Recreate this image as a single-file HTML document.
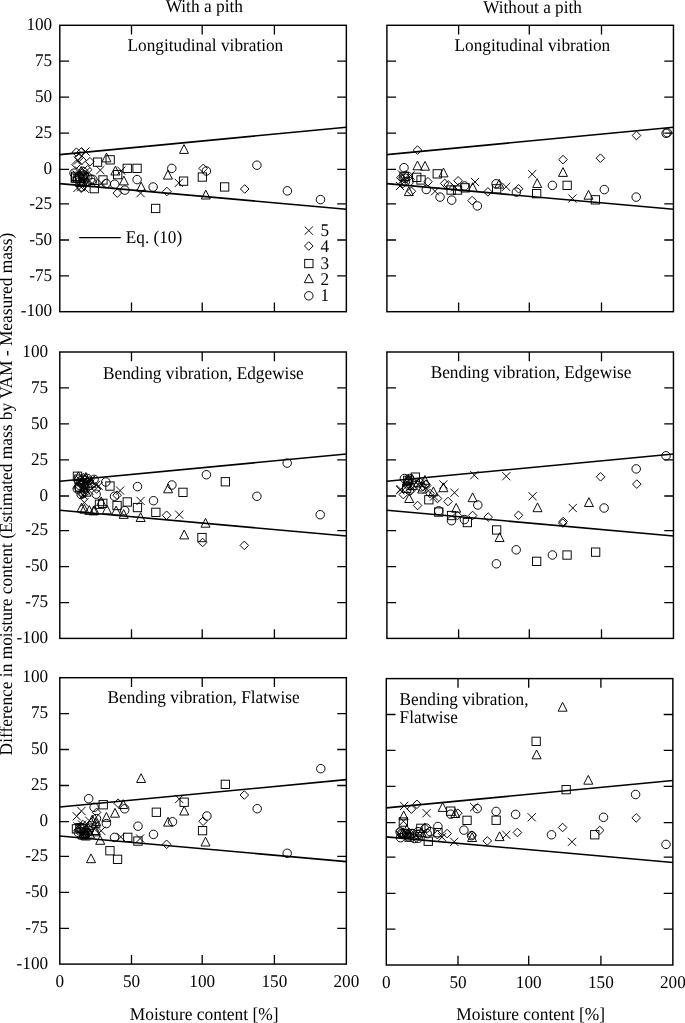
<!DOCTYPE html>
<html><head><meta charset="utf-8"><style>html,body{margin:0;padding:0;background:#fff;overflow:hidden}svg{display:block}</style></head>
<body><svg width="685" height="1023" viewBox="0 0 685 1023" font-family='"Liberation Serif", "Times New Roman", serif' font-size="17.2" text-rendering="geometricPrecision">
<rect width="685" height="1023" fill="#fff"/>
<g>
<line x1="59.8" y1="154.60" x2="346.4" y2="127.25" stroke="#000" stroke-width="1.6"/>
<line x1="59.8" y1="183.60" x2="346.4" y2="209.25" stroke="#000" stroke-width="1.6"/>
<path d="M184.0 144.6L188.5 153.4L179.5 153.4Z" stroke="#000" stroke-width="0.95" fill="none"/>
<rect x="132.9" y="164.2" width="8.3" height="8.3" stroke="#000" stroke-width="0.95" fill="none"/>
<circle cx="171.8" cy="168.4" r="4.25" stroke="#000" stroke-width="0.95" fill="none"/>
<path d="M167.9 170.3L172.4 179.1L163.4 179.1Z" stroke="#000" stroke-width="0.95" fill="none"/>
<circle cx="137.1" cy="179.6" r="4.25" stroke="#000" stroke-width="0.95" fill="none"/>
<path d="M174.7 178.8L182.9 187.0M182.9 178.8L174.7 187.0" stroke="#000" stroke-width="0.95" fill="none"/>
<rect x="179.4" y="177.0" width="8.3" height="8.3" stroke="#000" stroke-width="0.95" fill="none"/>
<path d="M203.2 164.1L207.5 168.4L203.2 172.7L198.9 168.4Z" stroke="#000" stroke-width="0.95" fill="none"/>
<circle cx="206.4" cy="171.0" r="4.25" stroke="#000" stroke-width="0.95" fill="none"/>
<rect x="198.2" y="172.9" width="8.3" height="8.3" stroke="#000" stroke-width="0.95" fill="none"/>
<circle cx="256.9" cy="165.2" r="4.25" stroke="#000" stroke-width="0.95" fill="none"/>
<rect x="220.5" y="182.8" width="8.3" height="8.3" stroke="#000" stroke-width="0.95" fill="none"/>
<path d="M244.7 184.7L249.0 189.0L244.7 193.3L240.4 189.0Z" stroke="#000" stroke-width="0.95" fill="none"/>
<circle cx="287.4" cy="190.9" r="4.25" stroke="#000" stroke-width="0.95" fill="none"/>
<circle cx="320.5" cy="199.6" r="4.25" stroke="#000" stroke-width="0.95" fill="none"/>
<path d="M205.8 190.2L210.3 199.0L201.3 199.0Z" stroke="#000" stroke-width="0.95" fill="none"/>
<path d="M166.9 187.2L171.2 191.5L166.9 195.8L162.6 191.5Z" stroke="#000" stroke-width="0.95" fill="none"/>
<circle cx="153.1" cy="187.0" r="4.25" stroke="#000" stroke-width="0.95" fill="none"/>
<path d="M141.2 182.2L145.7 191.0L136.7 191.0Z" stroke="#000" stroke-width="0.95" fill="none"/>
<path d="M136.5 189.0L144.7 197.2M144.7 189.0L136.5 197.2" stroke="#000" stroke-width="0.95" fill="none"/>
<rect x="151.5" y="204.3" width="8.3" height="8.3" stroke="#000" stroke-width="0.95" fill="none"/>
<path d="M106.5 153.1L111.0 161.9L102.0 161.9Z" stroke="#000" stroke-width="0.95" fill="none"/>
<rect x="106.0" y="155.7" width="8.3" height="8.3" stroke="#000" stroke-width="0.95" fill="none"/>
<rect x="93.4" y="158.0" width="8.3" height="8.3" stroke="#000" stroke-width="0.95" fill="none"/>
<path d="M96.2 166.0L104.4 174.2M104.4 166.0L96.2 174.2" stroke="#000" stroke-width="0.95" fill="none"/>
<path d="M115.4 166.2L119.9 175.0L110.9 175.0Z" stroke="#000" stroke-width="0.95" fill="none"/>
<path d="M117.2 166.6L125.4 174.8M125.4 166.6L117.2 174.8" stroke="#000" stroke-width="0.95" fill="none"/>
<rect x="113.5" y="170.5" width="8.3" height="8.3" stroke="#000" stroke-width="0.95" fill="none"/>
<rect x="123.1" y="164.2" width="8.3" height="8.3" stroke="#000" stroke-width="0.95" fill="none"/>
<rect x="98.8" y="175.8" width="8.3" height="8.3" stroke="#000" stroke-width="0.95" fill="none"/>
<circle cx="106.2" cy="183.5" r="4.25" stroke="#000" stroke-width="0.95" fill="none"/>
<circle cx="114.7" cy="184.2" r="4.25" stroke="#000" stroke-width="0.95" fill="none"/>
<path d="M123.9 176.1L128.4 184.9L119.4 184.9Z" stroke="#000" stroke-width="0.95" fill="none"/>
<circle cx="124.9" cy="190.1" r="4.25" stroke="#000" stroke-width="0.95" fill="none"/>
<path d="M117.3 188.8L121.6 193.1L117.3 197.4L113.0 193.1Z" stroke="#000" stroke-width="0.95" fill="none"/>
<path d="M97.5 179.1L105.7 187.3M105.7 179.1L97.5 187.3" stroke="#000" stroke-width="0.95" fill="none"/>
<path d="M76.4 147.9L80.7 152.2L76.4 156.5L72.1 152.2Z" stroke="#000" stroke-width="0.95" fill="none"/>
<path d="M81.2 147.9L85.5 152.2L81.2 156.5L76.9 152.2Z" stroke="#000" stroke-width="0.95" fill="none"/>
<path d="M81.4 147.4L89.6 155.6M89.6 147.4L81.4 155.6" stroke="#000" stroke-width="0.95" fill="none"/>
<path d="M89.9 157.4L94.2 161.7L89.9 166.0L85.6 161.7Z" stroke="#000" stroke-width="0.95" fill="none"/>
<path d="M76.1 160.3L80.4 164.6L76.1 168.9L71.8 164.6Z" stroke="#000" stroke-width="0.95" fill="none"/>
<path d="M81.9 155.9L86.2 160.2L81.9 164.5L77.6 160.2Z" stroke="#000" stroke-width="0.95" fill="none"/>
<rect x="71.5" y="172.2" width="8.3" height="8.3" stroke="#000" stroke-width="0.95" fill="none"/>
<rect x="90.1" y="184.5" width="8.3" height="8.3" stroke="#000" stroke-width="0.95" fill="none"/>
<circle cx="90.7" cy="179.2" r="4.25" stroke="#000" stroke-width="0.95" fill="none"/>
<path d="M77.1 183.1L85.3 191.3M85.3 183.1L77.1 191.3" stroke="#000" stroke-width="0.95" fill="none"/>
<path d="M73.4 183.8L81.6 192.0M81.6 183.8L73.4 192.0" stroke="#000" stroke-width="0.95" fill="none"/>
<circle cx="79.7" cy="177.0" r="4.25" stroke="#000" stroke-width="0.95" fill="none"/>
<circle cx="87.7" cy="177.0" r="4.25" stroke="#000" stroke-width="0.95" fill="none"/>
<path d="M84.1 166.9L88.4 171.2L84.1 175.5L79.8 171.2Z" stroke="#000" stroke-width="0.95" fill="none"/>
<path d="M87.7 165.4L92.0 169.7L87.7 174.0L83.4 169.7Z" stroke="#000" stroke-width="0.95" fill="none"/>
<path d="M74.9 166.4L83.1 174.6M83.1 166.4L74.9 174.6" stroke="#000" stroke-width="0.95" fill="none"/>
<path d="M77.9 174.4L86.1 182.6M86.1 174.4L77.9 182.6" stroke="#000" stroke-width="0.95" fill="none"/>
<circle cx="83.0" cy="181.5" r="4.25" stroke="#000" stroke-width="0.95" fill="none"/>
<rect x="73.8" y="174.3" width="8.3" height="8.3" stroke="#000" stroke-width="0.95" fill="none"/>
<path d="M79.0 153.2L83.3 157.5L79.0 161.8L74.7 157.5Z" stroke="#000" stroke-width="0.95" fill="none"/>
<path d="M73.9 156.4L82.1 164.6M82.1 156.4L73.9 164.6" stroke="#000" stroke-width="0.95" fill="none"/>
<circle cx="92.0" cy="182.5" r="4.25" stroke="#000" stroke-width="0.95" fill="none"/>
<path d="M86.9 178.2L91.2 182.5L86.9 186.8L82.6 182.5Z" stroke="#000" stroke-width="0.95" fill="none"/>
<path d="M80.2 178.2L84.5 182.5L80.2 186.8L75.9 182.5Z" stroke="#000" stroke-width="0.95" fill="none"/>
<path d="M76.0 173.2L80.5 182.0L71.5 182.0Z" stroke="#000" stroke-width="0.95" fill="none"/>
<path d="M81.6 167.7L89.8 175.9M89.8 167.7L81.6 175.9" stroke="#000" stroke-width="0.95" fill="none"/>
<rect x="71.1" y="173.9" width="8.3" height="8.3" stroke="#000" stroke-width="0.95" fill="none"/>
<circle cx="82.5" cy="176.0" r="4.25" stroke="#000" stroke-width="0.95" fill="none"/>
<path d="M83.5 174.8L87.8 179.1L83.5 183.4L79.2 179.1Z" stroke="#000" stroke-width="0.95" fill="none"/>
<path d="M83.0 177.6L87.5 186.4L78.5 186.4Z" stroke="#000" stroke-width="0.95" fill="none"/>
<circle cx="74.0" cy="173.2" r="4.25" stroke="#000" stroke-width="0.95" fill="none"/>
<path d="M82.6 176.9L87.1 185.7L78.1 185.7Z" stroke="#000" stroke-width="0.95" fill="none"/>
<rect x="75.9" y="178.1" width="8.3" height="8.3" stroke="#000" stroke-width="0.95" fill="none"/>
<path d="M72.6 170.5L80.8 178.7M80.8 170.5L72.6 178.7" stroke="#000" stroke-width="0.95" fill="none"/>
<circle cx="83.6" cy="176.9" r="4.25" stroke="#000" stroke-width="0.95" fill="none"/>
<rect x="75.4" y="174.1" width="8.3" height="8.3" stroke="#000" stroke-width="0.95" fill="none"/>
<circle cx="84.3" cy="174.9" r="4.25" stroke="#000" stroke-width="0.95" fill="none"/>
<path d="M81.2 166.4L85.7 175.2L76.7 175.2Z" stroke="#000" stroke-width="0.95" fill="none"/>
<path d="M80.8 184.7L89.0 192.9M89.0 184.7L80.8 192.9" stroke="#000" stroke-width="0.95" fill="none"/>
<circle cx="81.4" cy="187.0" r="4.25" stroke="#000" stroke-width="0.95" fill="none"/>
<circle cx="92.8" cy="179.4" r="4.25" stroke="#000" stroke-width="0.95" fill="none"/>
<rect x="59.8" y="25.3" width="286.55" height="286.4" fill="none" stroke="#000" stroke-width="1.45"/>
<path d="M131.5 25.3v9.2M131.5 311.7v-9.2M202.2 25.3v9.2M202.2 311.7v-9.2M274.4 25.3v9.2M274.4 311.7v-9.2M59.8 61.2h9.2M346.4 61.2h-9.2M59.8 97.1h9.2M346.4 97.1h-9.2M59.8 133.1h9.2M346.4 133.1h-9.2M59.8 169.3h9.2M346.4 169.3h-9.2M59.8 203.9h9.2M346.4 203.9h-9.2M59.8 240.0h9.2M346.4 240.0h-9.2M59.8 275.9h9.2M346.4 275.9h-9.2" stroke="#000" stroke-width="1.3" fill="none"/>
<text transform="translate(52.2 30.0) scale(1 1.04)" text-anchor="end">100</text>
<text transform="translate(52.2 65.9) scale(1 1.04)" text-anchor="end">75</text>
<text transform="translate(52.2 101.8) scale(1 1.04)" text-anchor="end">50</text>
<text transform="translate(52.2 137.8) scale(1 1.04)" text-anchor="end">25</text>
<text transform="translate(52.2 174.0) scale(1 1.04)" text-anchor="end">0</text>
<text transform="translate(52.2 208.6) scale(1 1.04)" text-anchor="end">-25</text>
<text transform="translate(52.2 244.7) scale(1 1.04)" text-anchor="end">-50</text>
<text transform="translate(52.2 280.6) scale(1 1.04)" text-anchor="end">-75</text>
<text transform="translate(52.2 316.4) scale(1 1.04)" text-anchor="end">-100</text>
<text transform="translate(205.4 51.0) scale(1 1.04)" text-anchor="middle" font-size="17.25">Longitudinal vibration</text>
</g>
<g>
<line x1="386.9" y1="154.60" x2="673.5" y2="127.25" stroke="#000" stroke-width="1.6"/>
<line x1="386.9" y1="183.60" x2="673.5" y2="209.25" stroke="#000" stroke-width="1.6"/>
<path d="M636.5 131.2L640.8 135.5L636.5 139.8L632.2 135.5Z" stroke="#000" stroke-width="0.95" fill="none"/>
<circle cx="666.1" cy="133.3" r="4.25" stroke="#000" stroke-width="0.95" fill="none"/>
<circle cx="667.3" cy="132.7" r="4.25" stroke="#000" stroke-width="0.95" fill="none"/>
<path d="M563.0 155.3L567.3 159.6L563.0 163.9L558.7 159.6Z" stroke="#000" stroke-width="0.95" fill="none"/>
<path d="M600.4 153.9L604.7 158.2L600.4 162.5L596.1 158.2Z" stroke="#000" stroke-width="0.95" fill="none"/>
<path d="M563.0 167.6L567.5 176.4L558.5 176.4Z" stroke="#000" stroke-width="0.95" fill="none"/>
<path d="M528.1 170.0L536.3 178.2M536.3 170.0L528.1 178.2" stroke="#000" stroke-width="0.95" fill="none"/>
<path d="M537.2 178.7L541.7 187.5L532.7 187.5Z" stroke="#000" stroke-width="0.95" fill="none"/>
<circle cx="552.4" cy="185.4" r="4.25" stroke="#000" stroke-width="0.95" fill="none"/>
<rect x="563.0" y="181.2" width="8.3" height="8.3" stroke="#000" stroke-width="0.95" fill="none"/>
<circle cx="604.3" cy="189.6" r="4.25" stroke="#000" stroke-width="0.95" fill="none"/>
<path d="M588.5 190.4L593.0 199.2L584.0 199.2Z" stroke="#000" stroke-width="0.95" fill="none"/>
<rect x="591.2" y="195.7" width="8.3" height="8.3" stroke="#000" stroke-width="0.95" fill="none"/>
<path d="M568.3 194.4L576.5 202.6M576.5 194.4L568.3 202.6" stroke="#000" stroke-width="0.95" fill="none"/>
<circle cx="636.2" cy="197.1" r="4.25" stroke="#000" stroke-width="0.95" fill="none"/>
<rect x="532.5" y="189.5" width="8.3" height="8.3" stroke="#000" stroke-width="0.95" fill="none"/>
<path d="M518.6 184.5L522.9 188.8L518.6 193.1L514.3 188.8Z" stroke="#000" stroke-width="0.95" fill="none"/>
<circle cx="516.4" cy="192.1" r="4.25" stroke="#000" stroke-width="0.95" fill="none"/>
<path d="M502.0 182.7L510.2 190.9M510.2 182.7L502.0 190.9" stroke="#000" stroke-width="0.95" fill="none"/>
<path d="M499.2 179.3L503.7 188.1L494.7 188.1Z" stroke="#000" stroke-width="0.95" fill="none"/>
<circle cx="496.1" cy="183.8" r="4.25" stroke="#000" stroke-width="0.95" fill="none"/>
<rect x="492.5" y="184.7" width="8.3" height="8.3" stroke="#000" stroke-width="0.95" fill="none"/>
<path d="M443.5 168.1L448.0 176.9L439.0 176.9Z" stroke="#000" stroke-width="0.95" fill="none"/>
<path d="M458.1 176.5L462.4 180.8L458.1 185.1L453.8 180.8Z" stroke="#000" stroke-width="0.95" fill="none"/>
<path d="M448.2 180.6L452.5 184.9L448.2 189.2L443.9 184.9Z" stroke="#000" stroke-width="0.95" fill="none"/>
<rect x="447.0" y="185.9" width="8.3" height="8.3" stroke="#000" stroke-width="0.95" fill="none"/>
<rect x="453.4" y="185.9" width="8.3" height="8.3" stroke="#000" stroke-width="0.95" fill="none"/>
<path d="M451.1 183.1L459.3 191.3M459.3 183.1L451.1 191.3" stroke="#000" stroke-width="0.95" fill="none"/>
<circle cx="464.5" cy="186.0" r="4.25" stroke="#000" stroke-width="0.95" fill="none"/>
<rect x="461.0" y="183.7" width="8.3" height="8.3" stroke="#000" stroke-width="0.95" fill="none"/>
<path d="M470.9 177.9L479.1 186.1M479.1 177.9L470.9 186.1" stroke="#000" stroke-width="0.95" fill="none"/>
<path d="M472.7 182.7L477.2 191.5L468.2 191.5Z" stroke="#000" stroke-width="0.95" fill="none"/>
<path d="M487.9 187.6L492.2 191.9L487.9 196.2L483.6 191.9Z" stroke="#000" stroke-width="0.95" fill="none"/>
<circle cx="440.0" cy="197.1" r="4.25" stroke="#000" stroke-width="0.95" fill="none"/>
<circle cx="451.7" cy="200.1" r="4.25" stroke="#000" stroke-width="0.95" fill="none"/>
<path d="M472.1 196.3L476.4 200.6L472.1 204.9L467.8 200.6Z" stroke="#000" stroke-width="0.95" fill="none"/>
<circle cx="477.4" cy="205.9" r="4.25" stroke="#000" stroke-width="0.95" fill="none"/>
<path d="M417.5 145.8L421.8 150.1L417.5 154.4L413.2 150.1Z" stroke="#000" stroke-width="0.95" fill="none"/>
<path d="M417.5 161.0L422.0 169.8L413.0 169.8Z" stroke="#000" stroke-width="0.95" fill="none"/>
<path d="M425.0 161.4L429.5 170.2L420.5 170.2Z" stroke="#000" stroke-width="0.95" fill="none"/>
<circle cx="404.0" cy="167.7" r="4.25" stroke="#000" stroke-width="0.95" fill="none"/>
<rect x="412.6" y="173.2" width="8.3" height="8.3" stroke="#000" stroke-width="0.95" fill="none"/>
<rect x="416.9" y="175.8" width="8.3" height="8.3" stroke="#000" stroke-width="0.95" fill="none"/>
<rect x="433.1" y="169.7" width="8.3" height="8.3" stroke="#000" stroke-width="0.95" fill="none"/>
<path d="M400.9 173.4L405.2 177.7L400.9 182.0L396.6 177.7Z" stroke="#000" stroke-width="0.95" fill="none"/>
<path d="M411.4 187.0L415.7 191.3L411.4 195.6L407.1 191.3Z" stroke="#000" stroke-width="0.95" fill="none"/>
<path d="M408.8 186.8L413.3 195.6L404.3 195.6Z" stroke="#000" stroke-width="0.95" fill="none"/>
<path d="M428.0 177.4L432.3 181.7L428.0 186.0L423.7 181.7Z" stroke="#000" stroke-width="0.95" fill="none"/>
<path d="M430.9 187.2L439.1 195.4M439.1 187.2L430.9 195.4" stroke="#000" stroke-width="0.95" fill="none"/>
<circle cx="426.3" cy="189.5" r="4.25" stroke="#000" stroke-width="0.95" fill="none"/>
<path d="M395.9 181.9L404.1 190.1M404.1 181.9L395.9 190.1" stroke="#000" stroke-width="0.95" fill="none"/>
<circle cx="407.9" cy="176.4" r="4.25" stroke="#000" stroke-width="0.95" fill="none"/>
<path d="M406.4 171.4L414.6 179.6M414.6 171.4L406.4 179.6" stroke="#000" stroke-width="0.95" fill="none"/>
<circle cx="405.3" cy="181.7" r="4.25" stroke="#000" stroke-width="0.95" fill="none"/>
<path d="M444.7 179.1L449.0 183.4L444.7 187.7L440.4 183.4Z" stroke="#000" stroke-width="0.95" fill="none"/>
<circle cx="405.3" cy="178.2" r="4.25" stroke="#000" stroke-width="0.95" fill="none"/>
<path d="M399.9 175.4L408.1 183.6M408.1 175.4L399.9 183.6" stroke="#000" stroke-width="0.95" fill="none"/>
<path d="M403.0 179.2L407.3 183.5L403.0 187.8L398.7 183.5Z" stroke="#000" stroke-width="0.95" fill="none"/>
<circle cx="409.0" cy="181.5" r="4.25" stroke="#000" stroke-width="0.95" fill="none"/>
<path d="M397.9 170.4L406.1 178.6M406.1 170.4L397.9 178.6" stroke="#000" stroke-width="0.95" fill="none"/>
<rect x="399.9" y="172.3" width="8.3" height="8.3" stroke="#000" stroke-width="0.95" fill="none"/>
<rect x="386.9" y="25.3" width="286.55" height="286.4" fill="none" stroke="#000" stroke-width="1.45"/>
<path d="M458.6 25.3v9.2M458.6 311.7v-9.2M529.3 25.3v9.2M529.3 311.7v-9.2M601.5 25.3v9.2M601.5 311.7v-9.2M386.9 61.2h9.2M673.5 61.2h-9.2M386.9 97.1h9.2M673.5 97.1h-9.2M386.9 133.1h9.2M673.5 133.1h-9.2M386.9 169.3h9.2M673.5 169.3h-9.2M386.9 203.9h9.2M673.5 203.9h-9.2M386.9 240.0h9.2M673.5 240.0h-9.2M386.9 275.9h9.2M673.5 275.9h-9.2" stroke="#000" stroke-width="1.3" fill="none"/>
<text transform="translate(532.4 51.0) scale(1 1.04)" text-anchor="middle" font-size="17.25">Longitudinal vibration</text>
</g>
<g>
<line x1="59.8" y1="481.30" x2="346.4" y2="453.95" stroke="#000" stroke-width="1.6"/>
<line x1="59.8" y1="510.30" x2="346.4" y2="535.95" stroke="#000" stroke-width="1.6"/>
<circle cx="287.2" cy="463.1" r="4.25" stroke="#000" stroke-width="0.95" fill="none"/>
<circle cx="206.4" cy="474.7" r="4.25" stroke="#000" stroke-width="0.95" fill="none"/>
<rect x="221.2" y="477.6" width="8.3" height="8.3" stroke="#000" stroke-width="0.95" fill="none"/>
<circle cx="171.9" cy="485.0" r="4.25" stroke="#000" stroke-width="0.95" fill="none"/>
<path d="M168.1 484.0L172.6 492.8L163.6 492.8Z" stroke="#000" stroke-width="0.95" fill="none"/>
<rect x="178.8" y="488.2" width="8.3" height="8.3" stroke="#000" stroke-width="0.95" fill="none"/>
<circle cx="256.9" cy="496.3" r="4.25" stroke="#000" stroke-width="0.95" fill="none"/>
<circle cx="153.5" cy="500.7" r="4.25" stroke="#000" stroke-width="0.95" fill="none"/>
<rect x="151.7" y="508.2" width="8.3" height="8.3" stroke="#000" stroke-width="0.95" fill="none"/>
<path d="M166.6 511.0L170.9 515.3L166.6 519.6L162.3 515.3Z" stroke="#000" stroke-width="0.95" fill="none"/>
<path d="M175.1 510.6L183.3 518.8M183.3 510.6L175.1 518.8" stroke="#000" stroke-width="0.95" fill="none"/>
<circle cx="320.2" cy="514.7" r="4.25" stroke="#000" stroke-width="0.95" fill="none"/>
<path d="M205.5 518.4L210.0 527.2L201.0 527.2Z" stroke="#000" stroke-width="0.95" fill="none"/>
<path d="M184.2 530.1L188.7 538.9L179.7 538.9Z" stroke="#000" stroke-width="0.95" fill="none"/>
<rect x="197.8" y="533.4" width="8.3" height="8.3" stroke="#000" stroke-width="0.95" fill="none"/>
<path d="M202.6 538.2L206.9 542.5L202.6 546.8L198.3 542.5Z" stroke="#000" stroke-width="0.95" fill="none"/>
<path d="M244.3 541.1L248.6 545.4L244.3 549.7L240.0 545.4Z" stroke="#000" stroke-width="0.95" fill="none"/>
<circle cx="105.8" cy="482.0" r="4.25" stroke="#000" stroke-width="0.95" fill="none"/>
<rect x="105.8" y="481.9" width="8.3" height="8.3" stroke="#000" stroke-width="0.95" fill="none"/>
<path d="M116.0 486.5L124.2 494.7M124.2 486.5L116.0 494.7" stroke="#000" stroke-width="0.95" fill="none"/>
<circle cx="137.5" cy="486.6" r="4.25" stroke="#000" stroke-width="0.95" fill="none"/>
<circle cx="114.5" cy="496.3" r="4.25" stroke="#000" stroke-width="0.95" fill="none"/>
<path d="M117.1 490.9L121.4 495.2L117.1 499.5L112.8 495.2Z" stroke="#000" stroke-width="0.95" fill="none"/>
<rect x="123.1" y="497.8" width="8.3" height="8.3" stroke="#000" stroke-width="0.95" fill="none"/>
<path d="M136.5 496.8L144.7 505.0M144.7 496.8L136.5 505.0" stroke="#000" stroke-width="0.95" fill="none"/>
<rect x="133.3" y="503.4" width="8.3" height="8.3" stroke="#000" stroke-width="0.95" fill="none"/>
<rect x="112.9" y="501.4" width="8.3" height="8.3" stroke="#000" stroke-width="0.95" fill="none"/>
<circle cx="124.7" cy="510.6" r="4.25" stroke="#000" stroke-width="0.95" fill="none"/>
<path d="M116.1 506.1L120.6 514.9L111.6 514.9Z" stroke="#000" stroke-width="0.95" fill="none"/>
<path d="M123.7 509.6L128.2 518.4L119.2 518.4Z" stroke="#000" stroke-width="0.95" fill="none"/>
<path d="M140.6 512.7L145.1 521.5L136.1 521.5Z" stroke="#000" stroke-width="0.95" fill="none"/>
<rect x="98.6" y="499.2" width="8.3" height="8.3" stroke="#000" stroke-width="0.95" fill="none"/>
<path d="M106.9 505.0L111.4 513.8L102.4 513.8Z" stroke="#000" stroke-width="0.95" fill="none"/>
<path d="M101.2 496.9L105.7 505.7L96.7 505.7Z" stroke="#000" stroke-width="0.95" fill="none"/>
<path d="M93.6 506.1L98.1 514.9L89.1 514.9Z" stroke="#000" stroke-width="0.95" fill="none"/>
<circle cx="96.1" cy="494.2" r="4.25" stroke="#000" stroke-width="0.95" fill="none"/>
<path d="M94.6 481.9L102.8 490.1M102.8 481.9L94.6 490.1" stroke="#000" stroke-width="0.95" fill="none"/>
<circle cx="94.1" cy="479.4" r="4.25" stroke="#000" stroke-width="0.95" fill="none"/>
<path d="M80.2 498.4L88.4 506.6M88.4 498.4L80.2 506.6" stroke="#000" stroke-width="0.95" fill="none"/>
<path d="M81.5 503.2L86.0 512.0L77.0 512.0Z" stroke="#000" stroke-width="0.95" fill="none"/>
<path d="M89.3 505.6L93.8 514.4L84.8 514.4Z" stroke="#000" stroke-width="0.95" fill="none"/>
<path d="M94.6 505.6L99.1 514.4L90.1 514.4Z" stroke="#000" stroke-width="0.95" fill="none"/>
<path d="M84.3 504.4L88.8 513.2L79.8 513.2Z" stroke="#000" stroke-width="0.95" fill="none"/>
<rect x="95.3" y="500.1" width="8.3" height="8.3" stroke="#000" stroke-width="0.95" fill="none"/>
<path d="M96.6 484.7L100.9 489.0L96.6 493.3L92.3 489.0Z" stroke="#000" stroke-width="0.95" fill="none"/>
<path d="M91.9 480.8L100.1 489.0M100.1 480.8L91.9 489.0" stroke="#000" stroke-width="0.95" fill="none"/>
<path d="M85.5 479.1L90.0 487.9L81.0 487.9Z" stroke="#000" stroke-width="0.95" fill="none"/>
<circle cx="80.8" cy="480.7" r="4.25" stroke="#000" stroke-width="0.95" fill="none"/>
<path d="M84.1 475.3L88.4 479.6L84.1 483.9L79.8 479.6Z" stroke="#000" stroke-width="0.95" fill="none"/>
<path d="M78.4 471.8L82.9 480.6L73.9 480.6Z" stroke="#000" stroke-width="0.95" fill="none"/>
<path d="M83.5 478.9L87.8 483.2L83.5 487.5L79.2 483.2Z" stroke="#000" stroke-width="0.95" fill="none"/>
<circle cx="87.4" cy="478.5" r="4.25" stroke="#000" stroke-width="0.95" fill="none"/>
<path d="M85.9 472.5L90.4 481.3L81.4 481.3Z" stroke="#000" stroke-width="0.95" fill="none"/>
<rect x="73.3" y="472.1" width="8.3" height="8.3" stroke="#000" stroke-width="0.95" fill="none"/>
<path d="M73.0 480.3L81.2 488.5M81.2 480.3L73.0 488.5" stroke="#000" stroke-width="0.95" fill="none"/>
<path d="M91.5 478.4L96.0 487.2L87.0 487.2Z" stroke="#000" stroke-width="0.95" fill="none"/>
<path d="M76.2 476.1L84.4 484.3M84.4 476.1L76.2 484.3" stroke="#000" stroke-width="0.95" fill="none"/>
<path d="M85.3 475.0L89.6 479.3L85.3 483.6L81.0 479.3Z" stroke="#000" stroke-width="0.95" fill="none"/>
<path d="M88.4 480.5L92.9 489.3L83.9 489.3Z" stroke="#000" stroke-width="0.95" fill="none"/>
<circle cx="83.2" cy="484.7" r="4.25" stroke="#000" stroke-width="0.95" fill="none"/>
<circle cx="79.8" cy="485.4" r="4.25" stroke="#000" stroke-width="0.95" fill="none"/>
<rect x="74.7" y="475.0" width="8.3" height="8.3" stroke="#000" stroke-width="0.95" fill="none"/>
<path d="M86.9 475.9L95.1 484.1M95.1 475.9L86.9 484.1" stroke="#000" stroke-width="0.95" fill="none"/>
<path d="M81.6 477.1L86.1 485.9L77.1 485.9Z" stroke="#000" stroke-width="0.95" fill="none"/>
<path d="M89.7 476.5L94.0 480.8L89.7 485.1L85.4 480.8Z" stroke="#000" stroke-width="0.95" fill="none"/>
<path d="M85.7 476.5L93.9 484.7M93.9 476.5L85.7 484.7" stroke="#000" stroke-width="0.95" fill="none"/>
<path d="M83.2 473.3L87.5 477.6L83.2 481.9L78.9 477.6Z" stroke="#000" stroke-width="0.95" fill="none"/>
<path d="M86.1 479.3L94.3 487.5M94.3 479.3L86.1 487.5" stroke="#000" stroke-width="0.95" fill="none"/>
<circle cx="77.3" cy="488.9" r="4.25" stroke="#000" stroke-width="0.95" fill="none"/>
<path d="M86.3 487.4L90.8 496.2L81.8 496.2Z" stroke="#000" stroke-width="0.95" fill="none"/>
<rect x="75.4" y="483.4" width="8.3" height="8.3" stroke="#000" stroke-width="0.95" fill="none"/>
<circle cx="84.1" cy="487.0" r="4.25" stroke="#000" stroke-width="0.95" fill="none"/>
<path d="M84.9 488.8L89.2 493.1L84.9 497.4L80.6 493.1Z" stroke="#000" stroke-width="0.95" fill="none"/>
<path d="M85.2 486.6L93.4 494.8M93.4 486.6L85.2 494.8" stroke="#000" stroke-width="0.95" fill="none"/>
<path d="M83.0 489.8L87.3 494.1L83.0 498.4L78.7 494.1Z" stroke="#000" stroke-width="0.95" fill="none"/>
<circle cx="81.1" cy="494.4" r="4.25" stroke="#000" stroke-width="0.95" fill="none"/>
<path d="M81.9 489.6L86.2 493.9L81.9 498.2L77.6 493.9Z" stroke="#000" stroke-width="0.95" fill="none"/>
<path d="M83.8 483.2L88.3 492.0L79.3 492.0Z" stroke="#000" stroke-width="0.95" fill="none"/>
<circle cx="78.5" cy="487.1" r="4.25" stroke="#000" stroke-width="0.95" fill="none"/>
<path d="M79.0 490.9L87.2 499.1M87.2 490.9L79.0 499.1" stroke="#000" stroke-width="0.95" fill="none"/>
<rect x="59.8" y="352.0" width="286.55" height="286.4" fill="none" stroke="#000" stroke-width="1.45"/>
<path d="M131.5 352.0v9.2M131.5 638.4v-9.2M202.2 352.0v9.2M202.2 638.4v-9.2M274.4 352.0v9.2M274.4 638.4v-9.2M59.8 387.9h9.2M346.4 387.9h-9.2M59.8 423.8h9.2M346.4 423.8h-9.2M59.8 459.8h9.2M346.4 459.8h-9.2M59.8 496.0h9.2M346.4 496.0h-9.2M59.8 530.6h9.2M346.4 530.6h-9.2M59.8 566.7h9.2M346.4 566.7h-9.2M59.8 602.6h9.2M346.4 602.6h-9.2" stroke="#000" stroke-width="1.3" fill="none"/>
<text transform="translate(48.1 356.7) scale(1 1.04)" text-anchor="end">100</text>
<text transform="translate(48.1 392.6) scale(1 1.04)" text-anchor="end">75</text>
<text transform="translate(48.1 428.5) scale(1 1.04)" text-anchor="end">50</text>
<text transform="translate(48.1 464.5) scale(1 1.04)" text-anchor="end">25</text>
<text transform="translate(48.1 500.7) scale(1 1.04)" text-anchor="end">0</text>
<text transform="translate(48.1 535.3) scale(1 1.04)" text-anchor="end">-25</text>
<text transform="translate(48.1 571.4) scale(1 1.04)" text-anchor="end">-50</text>
<text transform="translate(48.1 607.3) scale(1 1.04)" text-anchor="end">-75</text>
<text transform="translate(48.1 643.1) scale(1 1.04)" text-anchor="end">-100</text>
<text transform="translate(203.4 378.7) scale(1 1.04)" text-anchor="middle" font-size="17.25">Bending vibration, Edgewise</text>
</g>
<g>
<line x1="386.9" y1="481.30" x2="673.5" y2="453.95" stroke="#000" stroke-width="1.6"/>
<line x1="386.9" y1="510.30" x2="673.5" y2="535.95" stroke="#000" stroke-width="1.6"/>
<circle cx="666.0" cy="455.8" r="4.25" stroke="#000" stroke-width="0.95" fill="none"/>
<circle cx="636.2" cy="468.9" r="4.25" stroke="#000" stroke-width="0.95" fill="none"/>
<path d="M600.6 472.5L604.9 476.8L600.6 481.1L596.3 476.8Z" stroke="#000" stroke-width="0.95" fill="none"/>
<path d="M636.8 479.8L641.1 484.1L636.8 488.4L632.5 484.1Z" stroke="#000" stroke-width="0.95" fill="none"/>
<path d="M502.2 472.1L510.4 480.3M510.4 472.1L502.2 480.3" stroke="#000" stroke-width="0.95" fill="none"/>
<path d="M528.5 492.2L536.7 500.4M536.7 492.2L528.5 500.4" stroke="#000" stroke-width="0.95" fill="none"/>
<path d="M537.5 502.9L542.0 511.7L533.0 511.7Z" stroke="#000" stroke-width="0.95" fill="none"/>
<path d="M588.9 497.7L593.4 506.5L584.4 506.5Z" stroke="#000" stroke-width="0.95" fill="none"/>
<circle cx="604.1" cy="508.0" r="4.25" stroke="#000" stroke-width="0.95" fill="none"/>
<path d="M568.7 503.9L576.9 512.1M576.9 503.9L568.7 512.1" stroke="#000" stroke-width="0.95" fill="none"/>
<path d="M518.5 511.0L522.8 515.3L518.5 519.6L514.2 515.3Z" stroke="#000" stroke-width="0.95" fill="none"/>
<path d="M563.2 517.2L567.5 521.5L563.2 525.8L558.9 521.5Z" stroke="#000" stroke-width="0.95" fill="none"/>
<path d="M562.8 518.8L567.1 523.1L562.8 527.4L558.5 523.1Z" stroke="#000" stroke-width="0.95" fill="none"/>
<path d="M488.2 512.8L492.5 517.1L488.2 521.4L483.9 517.1Z" stroke="#000" stroke-width="0.95" fill="none"/>
<rect x="492.5" y="525.8" width="8.3" height="8.3" stroke="#000" stroke-width="0.95" fill="none"/>
<path d="M499.6 532.7L504.1 541.5L495.1 541.5Z" stroke="#000" stroke-width="0.95" fill="none"/>
<circle cx="516.2" cy="549.8" r="4.25" stroke="#000" stroke-width="0.95" fill="none"/>
<circle cx="496.4" cy="563.8" r="4.25" stroke="#000" stroke-width="0.95" fill="none"/>
<rect x="532.5" y="557.2" width="8.3" height="8.3" stroke="#000" stroke-width="0.95" fill="none"/>
<circle cx="552.4" cy="555.0" r="4.25" stroke="#000" stroke-width="0.95" fill="none"/>
<rect x="562.9" y="550.9" width="8.3" height="8.3" stroke="#000" stroke-width="0.95" fill="none"/>
<rect x="591.5" y="548.0" width="8.3" height="8.3" stroke="#000" stroke-width="0.95" fill="none"/>
<path d="M470.2 471.1L478.4 479.3M478.4 471.1L470.2 479.3" stroke="#000" stroke-width="0.95" fill="none"/>
<path d="M439.3 480.4L447.5 488.6M447.5 480.4L439.3 488.6" stroke="#000" stroke-width="0.95" fill="none"/>
<path d="M443.4 482.9L447.9 491.7L438.9 491.7Z" stroke="#000" stroke-width="0.95" fill="none"/>
<path d="M450.4 488.6L458.6 496.8M458.6 488.6L450.4 496.8" stroke="#000" stroke-width="0.95" fill="none"/>
<path d="M472.6 492.9L477.1 501.7L468.1 501.7Z" stroke="#000" stroke-width="0.95" fill="none"/>
<circle cx="477.8" cy="505.0" r="4.25" stroke="#000" stroke-width="0.95" fill="none"/>
<path d="M448.0 497.2L452.3 501.5L448.0 505.8L443.7 501.5Z" stroke="#000" stroke-width="0.95" fill="none"/>
<path d="M437.5 494.2L441.8 498.5L437.5 502.8L433.2 498.5Z" stroke="#000" stroke-width="0.95" fill="none"/>
<rect x="424.7" y="495.6" width="8.3" height="8.3" stroke="#000" stroke-width="0.95" fill="none"/>
<path d="M433.4 487.0L437.9 495.8L428.9 495.8Z" stroke="#000" stroke-width="0.95" fill="none"/>
<path d="M456.2 503.4L460.7 512.2L451.7 512.2Z" stroke="#000" stroke-width="0.95" fill="none"/>
<rect x="434.6" y="507.9" width="8.3" height="8.3" stroke="#000" stroke-width="0.95" fill="none"/>
<circle cx="438.7" cy="510.8" r="4.25" stroke="#000" stroke-width="0.95" fill="none"/>
<rect x="447.4" y="511.4" width="8.3" height="8.3" stroke="#000" stroke-width="0.95" fill="none"/>
<circle cx="451.5" cy="520.7" r="4.25" stroke="#000" stroke-width="0.95" fill="none"/>
<path d="M457.4 511.2L461.7 515.5L457.4 519.8L453.1 515.5Z" stroke="#000" stroke-width="0.95" fill="none"/>
<circle cx="464.4" cy="519.6" r="4.25" stroke="#000" stroke-width="0.95" fill="none"/>
<rect x="463.2" y="518.4" width="8.3" height="8.3" stroke="#000" stroke-width="0.95" fill="none"/>
<path d="M472.6 511.2L476.9 515.5L472.6 519.8L468.3 515.5Z" stroke="#000" stroke-width="0.95" fill="none"/>
<rect x="411.2" y="473.0" width="8.3" height="8.3" stroke="#000" stroke-width="0.95" fill="none"/>
<path d="M424.9 475.5L429.4 484.3L420.4 484.3Z" stroke="#000" stroke-width="0.95" fill="none"/>
<path d="M417.6 501.2L421.9 505.5L417.6 509.8L413.3 505.5Z" stroke="#000" stroke-width="0.95" fill="none"/>
<path d="M409.2 493.7L413.7 502.5L404.7 502.5Z" stroke="#000" stroke-width="0.95" fill="none"/>
<path d="M403.3 490.3L407.6 494.6L403.3 498.9L399.0 494.6Z" stroke="#000" stroke-width="0.95" fill="none"/>
<circle cx="404.4" cy="478.5" r="4.25" stroke="#000" stroke-width="0.95" fill="none"/>
<path d="M415.9 479.4L424.1 487.6M424.1 479.4L415.9 487.6" stroke="#000" stroke-width="0.95" fill="none"/>
<path d="M423.0 482.2L427.3 486.5L423.0 490.8L418.7 486.5Z" stroke="#000" stroke-width="0.95" fill="none"/>
<path d="M422.9 485.4L431.1 493.6M431.1 485.4L422.9 493.6" stroke="#000" stroke-width="0.95" fill="none"/>
<path d="M430.0 489.2L434.3 493.5L430.0 497.8L425.7 493.5Z" stroke="#000" stroke-width="0.95" fill="none"/>
<path d="M429.9 492.4L438.1 500.6M438.1 492.4L429.9 500.6" stroke="#000" stroke-width="0.95" fill="none"/>
<path d="M418.0 478.0L422.5 486.8L413.5 486.8Z" stroke="#000" stroke-width="0.95" fill="none"/>
<path d="M426.0 480.2L430.3 484.5L426.0 488.8L421.7 484.5Z" stroke="#000" stroke-width="0.95" fill="none"/>
<path d="M408.3 475.0L412.8 483.8L403.8 483.8Z" stroke="#000" stroke-width="0.95" fill="none"/>
<path d="M402.5 482.1L410.7 490.3M410.7 482.1L402.5 490.3" stroke="#000" stroke-width="0.95" fill="none"/>
<path d="M396.1 486.0L404.3 494.2M404.3 486.0L396.1 494.2" stroke="#000" stroke-width="0.95" fill="none"/>
<rect x="403.6" y="476.2" width="8.3" height="8.3" stroke="#000" stroke-width="0.95" fill="none"/>
<path d="M407.6 481.4L411.9 485.7L407.6 490.0L403.3 485.7Z" stroke="#000" stroke-width="0.95" fill="none"/>
<path d="M408.9 475.5L413.2 479.8L408.9 484.1L404.6 479.8Z" stroke="#000" stroke-width="0.95" fill="none"/>
<path d="M412.2 480.8L416.7 489.6L407.7 489.6Z" stroke="#000" stroke-width="0.95" fill="none"/>
<circle cx="409.4" cy="478.5" r="4.25" stroke="#000" stroke-width="0.95" fill="none"/>
<path d="M396.5 485.1L404.7 493.3M404.7 485.1L396.5 493.3" stroke="#000" stroke-width="0.95" fill="none"/>
<rect x="402.5" y="484.1" width="8.3" height="8.3" stroke="#000" stroke-width="0.95" fill="none"/>
<path d="M410.0 487.0L414.3 491.3L410.0 495.6L405.7 491.3Z" stroke="#000" stroke-width="0.95" fill="none"/>
<path d="M410.2 481.9L414.5 486.2L410.2 490.5L405.9 486.2Z" stroke="#000" stroke-width="0.95" fill="none"/>
<path d="M412.3 474.5L416.8 483.3L407.8 483.3Z" stroke="#000" stroke-width="0.95" fill="none"/>
<path d="M406.9 476.9L411.4 485.7L402.4 485.7Z" stroke="#000" stroke-width="0.95" fill="none"/>
<path d="M410.9 486.0L415.2 490.3L410.9 494.6L406.6 490.3Z" stroke="#000" stroke-width="0.95" fill="none"/>
<path d="M422.2 484.2L426.7 493.0L417.7 493.0Z" stroke="#000" stroke-width="0.95" fill="none"/>
<path d="M420.2 477.9L424.5 482.2L420.2 486.5L415.9 482.2Z" stroke="#000" stroke-width="0.95" fill="none"/>
<path d="M425.7 480.1L430.0 484.4L425.7 488.7L421.4 484.4Z" stroke="#000" stroke-width="0.95" fill="none"/>
<circle cx="421.1" cy="486.9" r="4.25" stroke="#000" stroke-width="0.95" fill="none"/>
<rect x="386.9" y="352.0" width="286.55" height="286.4" fill="none" stroke="#000" stroke-width="1.45"/>
<path d="M458.6 352.0v9.2M458.6 638.4v-9.2M529.3 352.0v9.2M529.3 638.4v-9.2M601.5 352.0v9.2M601.5 638.4v-9.2M386.9 387.9h9.2M673.5 387.9h-9.2M386.9 423.8h9.2M673.5 423.8h-9.2M386.9 459.8h9.2M673.5 459.8h-9.2M386.9 496.0h9.2M673.5 496.0h-9.2M386.9 530.6h9.2M673.5 530.6h-9.2M386.9 566.7h9.2M673.5 566.7h-9.2M386.9 602.6h9.2M673.5 602.6h-9.2" stroke="#000" stroke-width="1.3" fill="none"/>
<text transform="translate(531.0 377.9) scale(1 1.04)" text-anchor="middle" font-size="17.25">Bending vibration, Edgewise</text>
</g>
<g>
<line x1="59.8" y1="807.00" x2="346.4" y2="779.65" stroke="#000" stroke-width="1.6"/>
<line x1="59.8" y1="836.00" x2="346.4" y2="861.65" stroke="#000" stroke-width="1.6"/>
<circle cx="320.8" cy="768.7" r="4.25" stroke="#000" stroke-width="0.95" fill="none"/>
<rect x="221.2" y="780.2" width="8.3" height="8.3" stroke="#000" stroke-width="0.95" fill="none"/>
<path d="M244.3 790.7L248.6 795.0L244.3 799.3L240.0 795.0Z" stroke="#000" stroke-width="0.95" fill="none"/>
<path d="M175.1 794.9L183.3 803.1M183.3 794.9L175.1 803.1" stroke="#000" stroke-width="0.95" fill="none"/>
<rect x="180.0" y="798.1" width="8.3" height="8.3" stroke="#000" stroke-width="0.95" fill="none"/>
<path d="M184.2 806.2L188.7 815.0L179.7 815.0Z" stroke="#000" stroke-width="0.95" fill="none"/>
<circle cx="257.2" cy="808.7" r="4.25" stroke="#000" stroke-width="0.95" fill="none"/>
<rect x="152.2" y="808.1" width="8.3" height="8.3" stroke="#000" stroke-width="0.95" fill="none"/>
<path d="M168.1 817.3L172.6 826.1L163.6 826.1Z" stroke="#000" stroke-width="0.95" fill="none"/>
<circle cx="172.5" cy="821.8" r="4.25" stroke="#000" stroke-width="0.95" fill="none"/>
<circle cx="206.9" cy="816.0" r="4.25" stroke="#000" stroke-width="0.95" fill="none"/>
<path d="M203.1 816.9L207.4 821.2L203.1 825.5L198.8 821.2Z" stroke="#000" stroke-width="0.95" fill="none"/>
<rect x="198.4" y="826.5" width="8.3" height="8.3" stroke="#000" stroke-width="0.95" fill="none"/>
<path d="M205.5 837.2L210.0 846.0L201.0 846.0Z" stroke="#000" stroke-width="0.95" fill="none"/>
<circle cx="153.5" cy="834.4" r="4.25" stroke="#000" stroke-width="0.95" fill="none"/>
<path d="M166.6 840.0L170.9 844.3L166.6 848.6L162.3 844.3Z" stroke="#000" stroke-width="0.95" fill="none"/>
<circle cx="287.2" cy="853.3" r="4.25" stroke="#000" stroke-width="0.95" fill="none"/>
<path d="M141.1 773.7L145.6 782.5L136.6 782.5Z" stroke="#000" stroke-width="0.95" fill="none"/>
<rect x="99.1" y="800.6" width="8.3" height="8.3" stroke="#000" stroke-width="0.95" fill="none"/>
<path d="M118.1 798.9L122.4 803.2L118.1 807.5L113.8 803.2Z" stroke="#000" stroke-width="0.95" fill="none"/>
<path d="M123.2 799.7L127.7 808.5L118.7 808.5Z" stroke="#000" stroke-width="0.95" fill="none"/>
<circle cx="124.7" cy="808.8" r="4.25" stroke="#000" stroke-width="0.95" fill="none"/>
<path d="M115.0 808.4L119.5 817.2L110.5 817.2Z" stroke="#000" stroke-width="0.95" fill="none"/>
<path d="M96.6 808.1L100.9 812.4L96.6 816.7L92.3 812.4Z" stroke="#000" stroke-width="0.95" fill="none"/>
<circle cx="94.1" cy="807.3" r="4.25" stroke="#000" stroke-width="0.95" fill="none"/>
<path d="M106.4 812.5L110.9 821.3L101.9 821.3Z" stroke="#000" stroke-width="0.95" fill="none"/>
<circle cx="106.4" cy="823.6" r="4.25" stroke="#000" stroke-width="0.95" fill="none"/>
<circle cx="138.0" cy="826.2" r="4.25" stroke="#000" stroke-width="0.95" fill="none"/>
<circle cx="114.5" cy="837.4" r="4.25" stroke="#000" stroke-width="0.95" fill="none"/>
<path d="M116.6 832.8L124.8 841.0M124.8 832.8L116.6 841.0" stroke="#000" stroke-width="0.95" fill="none"/>
<rect x="123.6" y="833.2" width="8.3" height="8.3" stroke="#000" stroke-width="0.95" fill="none"/>
<path d="M136.0 834.4L144.2 842.6M144.2 834.4L136.0 842.6" stroke="#000" stroke-width="0.95" fill="none"/>
<rect x="133.8" y="836.9" width="8.3" height="8.3" stroke="#000" stroke-width="0.95" fill="none"/>
<rect x="105.8" y="846.6" width="8.3" height="8.3" stroke="#000" stroke-width="0.95" fill="none"/>
<rect x="113.4" y="855.2" width="8.3" height="8.3" stroke="#000" stroke-width="0.95" fill="none"/>
<path d="M91.0 853.9L95.5 862.7L86.5 862.7Z" stroke="#000" stroke-width="0.95" fill="none"/>
<path d="M100.2 835.5L104.7 844.3L95.7 844.3Z" stroke="#000" stroke-width="0.95" fill="none"/>
<path d="M97.1 826.7L105.3 834.9M105.3 826.7L97.1 834.9" stroke="#000" stroke-width="0.95" fill="none"/>
<circle cx="88.7" cy="798.7" r="4.25" stroke="#000" stroke-width="0.95" fill="none"/>
<path d="M77.3 806.9L85.5 815.1M85.5 806.9L77.3 815.1" stroke="#000" stroke-width="0.95" fill="none"/>
<path d="M72.6 812.2L80.8 820.4M80.8 812.2L72.6 820.4" stroke="#000" stroke-width="0.95" fill="none"/>
<path d="M78.0 820.5L86.2 828.7M86.2 820.5L78.0 828.7" stroke="#000" stroke-width="0.95" fill="none"/>
<path d="M73.5 822.3L81.7 830.5M81.7 822.3L73.5 830.5" stroke="#000" stroke-width="0.95" fill="none"/>
<path d="M90.0 829.3L94.5 838.1L85.5 838.1Z" stroke="#000" stroke-width="0.95" fill="none"/>
<circle cx="84.4" cy="833.3" r="4.25" stroke="#000" stroke-width="0.95" fill="none"/>
<path d="M87.9 824.0L92.2 828.3L87.9 832.6L83.6 828.3Z" stroke="#000" stroke-width="0.95" fill="none"/>
<circle cx="91.6" cy="825.4" r="4.25" stroke="#000" stroke-width="0.95" fill="none"/>
<path d="M95.3 827.0L99.8 835.8L90.8 835.8Z" stroke="#000" stroke-width="0.95" fill="none"/>
<path d="M92.2 815.2L96.7 824.0L87.7 824.0Z" stroke="#000" stroke-width="0.95" fill="none"/>
<path d="M85.2 816.6L93.4 824.8M93.4 816.6L85.2 824.8" stroke="#000" stroke-width="0.95" fill="none"/>
<circle cx="96.4" cy="818.6" r="4.25" stroke="#000" stroke-width="0.95" fill="none"/>
<path d="M96.2 816.8L100.7 825.6L91.7 825.6Z" stroke="#000" stroke-width="0.95" fill="none"/>
<path d="M82.8 830.3L87.3 839.1L78.3 839.1Z" stroke="#000" stroke-width="0.95" fill="none"/>
<path d="M90.4 825.0L98.6 833.2M98.6 825.0L90.4 833.2" stroke="#000" stroke-width="0.95" fill="none"/>
<path d="M95.8 825.7L100.3 834.5L91.3 834.5Z" stroke="#000" stroke-width="0.95" fill="none"/>
<path d="M83.0 820.3L87.3 824.6L83.0 828.9L78.7 824.6Z" stroke="#000" stroke-width="0.95" fill="none"/>
<path d="M95.7 818.5L100.2 827.3L91.2 827.3Z" stroke="#000" stroke-width="0.95" fill="none"/>
<rect x="78.9" y="824.6" width="8.3" height="8.3" stroke="#000" stroke-width="0.95" fill="none"/>
<circle cx="88.9" cy="830.5" r="4.25" stroke="#000" stroke-width="0.95" fill="none"/>
<path d="M81.8 827.8L90.0 836.0M90.0 827.8L81.8 836.0" stroke="#000" stroke-width="0.95" fill="none"/>
<rect x="72.3" y="824.7" width="8.3" height="8.3" stroke="#000" stroke-width="0.95" fill="none"/>
<path d="M77.5 830.2L85.7 838.4M85.7 830.2L77.5 838.4" stroke="#000" stroke-width="0.95" fill="none"/>
<rect x="75.7" y="823.5" width="8.3" height="8.3" stroke="#000" stroke-width="0.95" fill="none"/>
<path d="M85.6 829.8L89.9 834.1L85.6 838.4L81.3 834.1Z" stroke="#000" stroke-width="0.95" fill="none"/>
<path d="M86.9 828.1L91.2 832.4L86.9 836.7L82.6 832.4Z" stroke="#000" stroke-width="0.95" fill="none"/>
<circle cx="78.3" cy="832.5" r="4.25" stroke="#000" stroke-width="0.95" fill="none"/>
<rect x="79.8" y="828.8" width="8.3" height="8.3" stroke="#000" stroke-width="0.95" fill="none"/>
<circle cx="86.1" cy="830.5" r="4.25" stroke="#000" stroke-width="0.95" fill="none"/>
<circle cx="80.3" cy="831.2" r="4.25" stroke="#000" stroke-width="0.95" fill="none"/>
<rect x="77.2" y="824.2" width="8.3" height="8.3" stroke="#000" stroke-width="0.95" fill="none"/>
<path d="M84.4 830.2L88.9 839.0L79.9 839.0Z" stroke="#000" stroke-width="0.95" fill="none"/>
<circle cx="87.4" cy="832.8" r="4.25" stroke="#000" stroke-width="0.95" fill="none"/>
<path d="M85.9 831.2L90.4 840.0L81.4 840.0Z" stroke="#000" stroke-width="0.95" fill="none"/>
<rect x="59.8" y="677.7" width="286.55" height="286.4" fill="none" stroke="#000" stroke-width="1.45"/>
<path d="M131.5 677.7v9.2M131.5 964.1v-9.2M202.2 677.7v9.2M202.2 964.1v-9.2M274.4 677.7v9.2M274.4 964.1v-9.2M59.8 713.6h9.2M346.4 713.6h-9.2M59.8 749.5h9.2M346.4 749.5h-9.2M59.8 785.5h9.2M346.4 785.5h-9.2M59.8 821.7h9.2M346.4 821.7h-9.2M59.8 856.3h9.2M346.4 856.3h-9.2M59.8 892.4h9.2M346.4 892.4h-9.2M59.8 928.3h9.2M346.4 928.3h-9.2" stroke="#000" stroke-width="1.3" fill="none"/>
<text transform="translate(48.1 682.4) scale(1 1.04)" text-anchor="end">100</text>
<text transform="translate(48.1 718.3) scale(1 1.04)" text-anchor="end">75</text>
<text transform="translate(48.1 754.2) scale(1 1.04)" text-anchor="end">50</text>
<text transform="translate(48.1 790.2) scale(1 1.04)" text-anchor="end">25</text>
<text transform="translate(48.1 826.4) scale(1 1.04)" text-anchor="end">0</text>
<text transform="translate(48.1 861.0) scale(1 1.04)" text-anchor="end">-25</text>
<text transform="translate(48.1 897.1) scale(1 1.04)" text-anchor="end">-50</text>
<text transform="translate(48.1 933.0) scale(1 1.04)" text-anchor="end">-75</text>
<text transform="translate(48.1 968.8) scale(1 1.04)" text-anchor="end">-100</text>
<text transform="translate(203.6 703.4) scale(1 1.04)" text-anchor="middle" font-size="17.25">Bending vibration, Flatwise</text>
</g>
<g>
<line x1="386.3" y1="807.90" x2="672.9" y2="780.55" stroke="#000" stroke-width="1.6"/>
<line x1="386.3" y1="836.90" x2="672.9" y2="862.55" stroke="#000" stroke-width="1.6"/>
<path d="M562.6 702.4L567.1 711.2L558.1 711.2Z" stroke="#000" stroke-width="0.95" fill="none"/>
<rect x="532.0" y="737.2" width="8.3" height="8.3" stroke="#000" stroke-width="0.95" fill="none"/>
<path d="M536.6 750.0L541.1 758.8L532.1 758.8Z" stroke="#000" stroke-width="0.95" fill="none"/>
<path d="M588.3 775.4L592.8 784.2L583.8 784.2Z" stroke="#000" stroke-width="0.95" fill="none"/>
<rect x="562.0" y="785.5" width="8.3" height="8.3" stroke="#000" stroke-width="0.95" fill="none"/>
<circle cx="635.6" cy="794.5" r="4.25" stroke="#000" stroke-width="0.95" fill="none"/>
<circle cx="496.1" cy="811.4" r="4.25" stroke="#000" stroke-width="0.95" fill="none"/>
<rect x="492.0" y="816.1" width="8.3" height="8.3" stroke="#000" stroke-width="0.95" fill="none"/>
<circle cx="515.6" cy="814.4" r="4.25" stroke="#000" stroke-width="0.95" fill="none"/>
<path d="M527.6 813.2L535.8 821.4M535.8 813.2L527.6 821.4" stroke="#000" stroke-width="0.95" fill="none"/>
<circle cx="603.5" cy="817.3" r="4.25" stroke="#000" stroke-width="0.95" fill="none"/>
<path d="M636.2 813.6L640.5 817.9L636.2 822.2L631.9 817.9Z" stroke="#000" stroke-width="0.95" fill="none"/>
<path d="M562.6 823.2L566.9 827.5L562.6 831.8L558.3 827.5Z" stroke="#000" stroke-width="0.95" fill="none"/>
<path d="M517.4 828.2L521.7 832.5L517.4 836.8L513.1 832.5Z" stroke="#000" stroke-width="0.95" fill="none"/>
<circle cx="551.5" cy="834.8" r="4.25" stroke="#000" stroke-width="0.95" fill="none"/>
<path d="M567.9 837.7L576.1 845.9M576.1 837.7L567.9 845.9" stroke="#000" stroke-width="0.95" fill="none"/>
<rect x="590.6" y="830.6" width="8.3" height="8.3" stroke="#000" stroke-width="0.95" fill="none"/>
<path d="M599.7 826.1L604.0 830.4L599.7 834.7L595.4 830.4Z" stroke="#000" stroke-width="0.95" fill="none"/>
<path d="M499.6 831.8L504.1 840.6L495.1 840.6Z" stroke="#000" stroke-width="0.95" fill="none"/>
<path d="M502.2 830.7L510.4 838.9M510.4 830.7L502.2 838.9" stroke="#000" stroke-width="0.95" fill="none"/>
<path d="M487.3 836.6L491.6 840.9L487.3 845.2L483.0 840.9Z" stroke="#000" stroke-width="0.95" fill="none"/>
<circle cx="666.0" cy="844.4" r="4.25" stroke="#000" stroke-width="0.95" fill="none"/>
<path d="M442.7 802.6L447.2 811.4L438.2 811.4Z" stroke="#000" stroke-width="0.95" fill="none"/>
<path d="M422.5 809.1L430.7 817.3M430.7 809.1L422.5 817.3" stroke="#000" stroke-width="0.95" fill="none"/>
<rect x="446.6" y="807.0" width="8.3" height="8.3" stroke="#000" stroke-width="0.95" fill="none"/>
<circle cx="450.7" cy="814.2" r="4.25" stroke="#000" stroke-width="0.95" fill="none"/>
<path d="M455.3 808.7L459.8 817.5L450.8 817.5Z" stroke="#000" stroke-width="0.95" fill="none"/>
<path d="M457.8 808.9L462.1 813.2L457.8 817.5L453.5 813.2Z" stroke="#000" stroke-width="0.95" fill="none"/>
<path d="M470.1 803.0L478.3 811.2M478.3 803.0L470.1 811.2" stroke="#000" stroke-width="0.95" fill="none"/>
<circle cx="477.2" cy="808.6" r="4.25" stroke="#000" stroke-width="0.95" fill="none"/>
<rect x="462.9" y="816.2" width="8.3" height="8.3" stroke="#000" stroke-width="0.95" fill="none"/>
<circle cx="463.9" cy="830.1" r="4.25" stroke="#000" stroke-width="0.95" fill="none"/>
<path d="M472.1 830.9L476.4 835.2L472.1 839.5L467.8 835.2Z" stroke="#000" stroke-width="0.95" fill="none"/>
<path d="M472.1 832.7L476.6 841.5L467.6 841.5Z" stroke="#000" stroke-width="0.95" fill="none"/>
<circle cx="471.6" cy="835.7" r="4.25" stroke="#000" stroke-width="0.95" fill="none"/>
<path d="M447.1 829.3L451.4 833.6L447.1 837.9L442.8 833.6Z" stroke="#000" stroke-width="0.95" fill="none"/>
<circle cx="437.9" cy="826.5" r="4.25" stroke="#000" stroke-width="0.95" fill="none"/>
<rect x="433.8" y="828.5" width="8.3" height="8.3" stroke="#000" stroke-width="0.95" fill="none"/>
<path d="M437.4 830.4L441.7 834.7L437.4 839.0L433.1 834.7Z" stroke="#000" stroke-width="0.95" fill="none"/>
<path d="M450.1 837.7L458.3 845.9M458.3 837.7L450.1 845.9" stroke="#000" stroke-width="0.95" fill="none"/>
<path d="M437.9 833.1L446.1 841.3M446.1 833.1L437.9 841.3" stroke="#000" stroke-width="0.95" fill="none"/>
<circle cx="427.2" cy="833.6" r="4.25" stroke="#000" stroke-width="0.95" fill="none"/>
<rect x="424.1" y="837.1" width="8.3" height="8.3" stroke="#000" stroke-width="0.95" fill="none"/>
<path d="M416.9 800.0L421.2 804.3L416.9 808.6L412.6 804.3Z" stroke="#000" stroke-width="0.95" fill="none"/>
<path d="M411.4 804.8L415.7 809.1L411.4 813.4L407.1 809.1Z" stroke="#000" stroke-width="0.95" fill="none"/>
<path d="M400.0 801.8L408.2 810.0M408.2 801.8L400.0 810.0" stroke="#000" stroke-width="0.95" fill="none"/>
<path d="M403.7 811.0L408.2 819.8L399.2 819.8Z" stroke="#000" stroke-width="0.95" fill="none"/>
<path d="M399.3 817.2L407.5 825.4M407.5 817.2L399.3 825.4" stroke="#000" stroke-width="0.95" fill="none"/>
<rect x="399.2" y="817.9" width="8.3" height="8.3" stroke="#000" stroke-width="0.95" fill="none"/>
<rect x="416.7" y="824.2" width="8.3" height="8.3" stroke="#000" stroke-width="0.95" fill="none"/>
<circle cx="430.3" cy="831.6" r="4.25" stroke="#000" stroke-width="0.95" fill="none"/>
<circle cx="401.4" cy="833.5" r="4.25" stroke="#000" stroke-width="0.95" fill="none"/>
<circle cx="418.2" cy="838.3" r="4.25" stroke="#000" stroke-width="0.95" fill="none"/>
<circle cx="400.2" cy="832.1" r="4.25" stroke="#000" stroke-width="0.95" fill="none"/>
<circle cx="406.9" cy="833.7" r="4.25" stroke="#000" stroke-width="0.95" fill="none"/>
<circle cx="426.3" cy="828.1" r="4.25" stroke="#000" stroke-width="0.95" fill="none"/>
<circle cx="419.8" cy="834.1" r="4.25" stroke="#000" stroke-width="0.95" fill="none"/>
<circle cx="418.0" cy="831.7" r="4.25" stroke="#000" stroke-width="0.95" fill="none"/>
<circle cx="400.5" cy="837.7" r="4.25" stroke="#000" stroke-width="0.95" fill="none"/>
<circle cx="412.8" cy="833.5" r="4.25" stroke="#000" stroke-width="0.95" fill="none"/>
<rect x="405.0" y="833.0" width="8.3" height="8.3" stroke="#000" stroke-width="0.95" fill="none"/>
<circle cx="402.4" cy="833.9" r="4.25" stroke="#000" stroke-width="0.95" fill="none"/>
<circle cx="411.3" cy="833.6" r="4.25" stroke="#000" stroke-width="0.95" fill="none"/>
<circle cx="417.6" cy="834.5" r="4.25" stroke="#000" stroke-width="0.95" fill="none"/>
<path d="M421.5 827.6L426.0 836.4L417.0 836.4Z" stroke="#000" stroke-width="0.95" fill="none"/>
<circle cx="414.4" cy="838.5" r="4.25" stroke="#000" stroke-width="0.95" fill="none"/>
<circle cx="408.9" cy="836.8" r="4.25" stroke="#000" stroke-width="0.95" fill="none"/>
<path d="M424.7 823.3L429.0 827.6L424.7 831.9L420.4 827.6Z" stroke="#000" stroke-width="0.95" fill="none"/>
<path d="M403.1 827.8L407.6 836.6L398.6 836.6Z" stroke="#000" stroke-width="0.95" fill="none"/>
<path d="M406.8 824.9L411.3 833.7L402.3 833.7Z" stroke="#000" stroke-width="0.95" fill="none"/>
<path d="M407.9 829.1L412.4 837.9L403.4 837.9Z" stroke="#000" stroke-width="0.95" fill="none"/>
<path d="M406.1 828.8L410.4 833.1L406.1 837.4L401.8 833.1Z" stroke="#000" stroke-width="0.95" fill="none"/>
<path d="M403.3 829.9L407.6 834.2L403.3 838.5L399.0 834.2Z" stroke="#000" stroke-width="0.95" fill="none"/>
<path d="M400.0 826.5L404.3 830.8L400.0 835.1L395.7 830.8Z" stroke="#000" stroke-width="0.95" fill="none"/>
<circle cx="406.7" cy="833.7" r="4.25" stroke="#000" stroke-width="0.95" fill="none"/>
<path d="M408.9 828.0L413.2 832.3L408.9 836.6L404.6 832.3Z" stroke="#000" stroke-width="0.95" fill="none"/>
<rect x="386.3" y="678.6" width="286.55" height="286.4" fill="none" stroke="#000" stroke-width="1.45"/>
<path d="M458.0 678.6v9.2M458.0 965.0v-9.2M528.7 678.6v9.2M528.7 965.0v-9.2M600.9 678.6v9.2M600.9 965.0v-9.2M386.3 714.5h9.2M672.9 714.5h-9.2M386.3 750.4h9.2M672.9 750.4h-9.2M386.3 786.4h9.2M672.9 786.4h-9.2M386.3 822.6h9.2M672.9 822.6h-9.2M386.3 857.2h9.2M672.9 857.2h-9.2M386.3 893.3h9.2M672.9 893.3h-9.2M386.3 929.2h9.2M672.9 929.2h-9.2" stroke="#000" stroke-width="1.3" fill="none"/>
<text transform="translate(399.6 704.8) scale(1 1.04)">Bending vibration,</text>
<text transform="translate(399.6 723.2) scale(1 1.04)">Flatwise</text>
</g>
<text transform="translate(59.8 987.1) scale(1 1.04)" text-anchor="middle">0</text>
<text transform="translate(131.5 987.1) scale(1 1.04)" text-anchor="middle">50</text>
<text transform="translate(202.2 987.1) scale(1 1.04)" text-anchor="middle">100</text>
<text transform="translate(274.4 987.1) scale(1 1.04)" text-anchor="middle">150</text>
<text transform="translate(346.4 987.1) scale(1 1.04)" text-anchor="middle">200</text>
<text transform="translate(204.1 1019.5) scale(1 1.04)" text-anchor="middle" font-size="17.4">Moisture content [%]</text>
<text transform="translate(386.3 988.0) scale(1 1.04)" text-anchor="middle">0</text>
<text transform="translate(458.0 988.0) scale(1 1.04)" text-anchor="middle">50</text>
<text transform="translate(528.7 988.0) scale(1 1.04)" text-anchor="middle">100</text>
<text transform="translate(600.9 988.0) scale(1 1.04)" text-anchor="middle">150</text>
<text transform="translate(672.9 988.0) scale(1 1.04)" text-anchor="middle">200</text>
<text transform="translate(530.6 1019.5) scale(1 1.04)" text-anchor="middle" font-size="17.4">Moisture content [%]</text>
<text transform="translate(204.3 12.3) scale(1 1.04)" text-anchor="middle" font-size="17.35">With a pith</text>
<text transform="translate(532.5 12.5) scale(1 1.04)" text-anchor="middle">Without a pith</text>
<text transform="translate(12.3,755.4) rotate(-90) scale(1 1.04)" font-size="17.37">Difference in moisture content (Estimated mass by VAM - Measured mass)</text>
<line x1="79.2" y1="237.6" x2="120.8" y2="237.6" stroke="#000" stroke-width="1.4"/>
<text transform="translate(125.8 243.4) scale(1 1.04)">Eq. (10)</text>
<path d="M304.7 226.5L312.9 234.7M312.9 226.5L304.7 234.7" stroke="#000" stroke-width="0.95" fill="none"/>
<text transform="translate(320.6 236.2) scale(1 1.04)">5</text>
<path d="M308.8 241.7L313.1 246.0L308.8 250.3L304.5 246.0Z" stroke="#000" stroke-width="0.95" fill="none"/>
<text transform="translate(320.6 252.4) scale(1 1.04)">4</text>
<rect x="304.7" y="259.4" width="8.3" height="8.3" stroke="#000" stroke-width="0.95" fill="none"/>
<text transform="translate(320.6 268.8) scale(1 1.04)">3</text>
<path d="M308.8 273.9L313.3 282.7L304.3 282.7Z" stroke="#000" stroke-width="0.95" fill="none"/>
<text transform="translate(320.6 285.2) scale(1 1.04)">2</text>
<circle cx="308.8" cy="295.8" r="4.25" stroke="#000" stroke-width="0.95" fill="none"/>
<text transform="translate(320.6 301.2) scale(1 1.04)">1</text>
</svg></body></html>
